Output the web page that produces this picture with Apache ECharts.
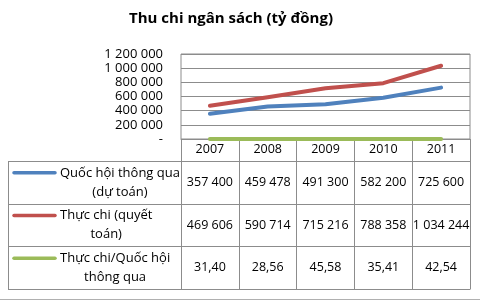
<!DOCTYPE html>
<html><head><meta charset="utf-8">
<script src="https://cdn.jsdelivr.net/npm/echarts@6/dist/echarts.min.js"></script>
<style>html,body{margin:0;padding:0;background:#fff}#c{width:480px;height:300px}</style>
</head><body><div id="c"></div>
<script>
const chartTitle = 'Thu chi ngân sách (tỷ đồng)';
const years = ['2007', '2008', '2009', '2010', '2011'];
const seriesNames = ['Quốc hội thông qua (dự toán)', 'Thực chi (quyết toán)', 'Thực chi/Quốc hội thông qua'];
const seriesLabelLines = [['Quốc hội thông qua', '(dự toán)'], ['Thực chi (quyết', 'toán)'], ['Thực chi/Quốc hội', 'thông qua']];
const quocHoi = [357400, 459478, 491300, 582200, 725600];
const thucChi = [469606, 590714, 715216, 788358, 1034244];
const tyLe = [31.40, 28.56, 45.58, 35.41, 42.54];
const yMin = 0, yMax = 1200000, yStep = 200000;

const colors = ['#4F81BD', '#C0504D', '#9BBB59'];
const FONT = '"Open Sans", "Liberation Sans", sans-serif';
const GRID_C = '#8c8c8c';

function fmtInt(v) { return String(Math.round(v)).replace(/\B(?=(\d{3})+(?!\d))/g, ' '); }
function fmtDec(v) { return v.toFixed(2).replace('.', ','); }

const chart = echarts.init(document.getElementById('c'), null, { renderer: 'canvas' });
const allData = [quocHoi, thucChi, tyLe];
chart.setOption({
  animation: false,
  textStyle: { fontFamily: FONT },
  grid: { left: 181, right: 10, top: 54, height: 85, show: true, borderColor: GRID_C, borderWidth: 1 },
  xAxis: {
    type: 'category', data: years, boundaryGap: true,
    axisLine: { lineStyle: { color: GRID_C, width: 1 } },
    axisTick: { show: true, length: 150, interval: 0, lineStyle: { color: GRID_C } },
    axisLabel: { margin: 4, fontSize: 12.5, color: '#000', fontFamily: FONT }
  },
  yAxis: {
    type: 'value', min: yMin, max: yMax, interval: yStep,
    axisLine: { show: false }, axisTick: { show: false },
    splitLine: { lineStyle: { color: GRID_C } },
    axisLabel: { margin: 18, fontSize: 13, color: '#000', fontFamily: FONT,
      formatter: v => v === 0 ? '-' : fmtInt(v) }
  },
  series: allData.map((d, i) => ({
    name: seriesNames[i], type: 'line', data: d, showSymbol: false, symbol: 'none',
    lineStyle: { color: colors[i], width: 4, cap: 'round', join: 'round' },
    itemStyle: { color: colors[i] }, z: 3 - i
  }))
});

// Build the data table from the axis scale
const cx = i => chart.convertToPixel({ xAxisIndex: 0 }, i);
const colW = cx(1) - cx(0);
const rightX = Math.round(cx(years.length - 1) + colW / 2);
const axisY = Math.round(chart.convertToPixel({ yAxisIndex: 0 }, 0));
const headerBottom = axisY + 22;
const rowH = 42.7;
const tableLeft = 8;
const els = [];
const hline = (x1, x2, y) => els.push({ type: 'line', shape: { x1: x1, y1: Math.round(y) + 0.5, x2: x2, y2: Math.round(y) + 0.5 }, style: { stroke: GRID_C, lineWidth: 1 }, silent: true });
for (let r = 0; r <= 3; r++) hline(tableLeft, rightX + 0.5, headerBottom + r * rowH);
els.push({ type: 'line', shape: { x1: tableLeft + 0.5, y1: headerBottom, x2: tableLeft + 0.5, y2: Math.round(headerBottom + 3 * rowH) + 0.5 }, style: { stroke: GRID_C, lineWidth: 1 }, silent: true });
els.push({ type: 'line', shape: { x1: 0, y1: 299.5, x2: 480, y2: 299.5 }, style: { stroke: '#b0b0b0', lineWidth: 1 }, silent: true });

const LEG_FONT = '13px ' + FONT;
const VAL_FONT = '12.5px ' + FONT;
const mctx = document.createElement('canvas').getContext('2d');
mctx.font = LEG_FONT;
allData.forEach((d, r) => {
  const yc = headerBottom + r * rowH + rowH / 2;
  d.forEach((v, i) => {
    els.push({ type: 'text', x: cx(i), y: yc, style: { text: r === 2 ? fmtDec(v) : fmtInt(v), font: VAL_FONT, fill: '#000', align: 'center', verticalAlign: 'middle' }, silent: true });
  });
  const lines = seriesLabelLines[r];
  const w = Math.max(...lines.map(t => mctx.measureText(t).width));
  const tx = 60 + w / 2;
  els.push({ type: 'text', x: tx, y: yc, style: { text: lines.join('\n'), font: LEG_FONT, fill: '#000', align: 'center', verticalAlign: 'middle', lineHeight: 19 }, silent: true });
  els.push({ type: 'line', shape: { x1: 14, y1: yc - 9.5, x2: 55, y2: yc - 9.5 }, style: { stroke: colors[r], lineWidth: 3.5, lineCap: 'round' }, silent: true });
});
els.push({ type: 'text', x: 231, y: 19, style: { text: chartTitle, font: 'bold 15px ' + FONT, fill: '#000', align: 'center', verticalAlign: 'middle' }, silent: true });
chart.setOption({ graphic: { elements: els } });
</script>
</body></html>
